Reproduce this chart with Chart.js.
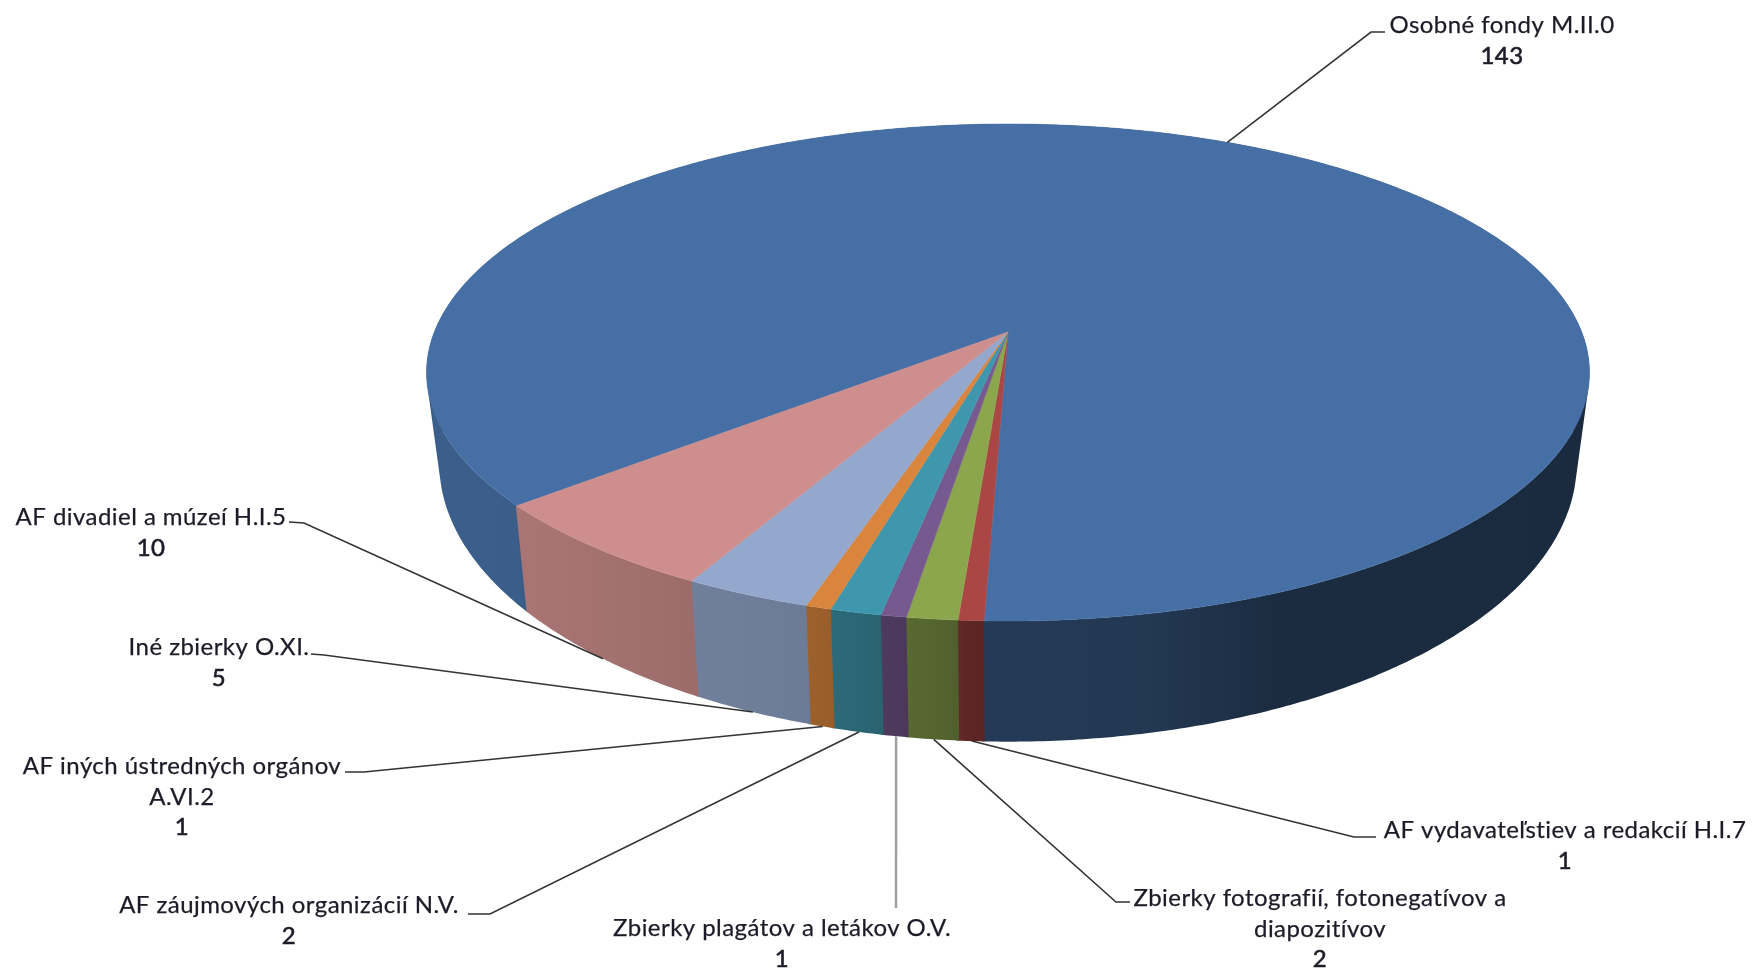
<!DOCTYPE html>
<html>
<head>
<meta charset="utf-8">
<style>
	body { margin: 0; background: #fff; }
	canvas { display: block; filter: blur(0.5px); }
</style>
<script src="https://cdn.jsdelivr.net/npm/chart.js@4"></script>
</head>
<body>
<canvas id="mycanvas" width="1754" height="968"></canvas>
<script>
var categories = [
	"Osobné fondy M.II.0",
	"AF vydavateľstiev a redakcií H.I.7",
	"Zbierky fotografií, fotonegatívov a diapozitívov",
	"Zbierky plagátov a letákov O.V.",
	"AF záujmových organizácií N.V.",
	"AF iných ústredných orgánov A.VI.2",
	"Iné zbierky O.XI.",
	"AF divadiel a múzeí H.I.5"
];
var values = [143, 1, 2, 1, 2, 1, 5, 10];
var colors = ["#4670a5", "#aa4644", "#8ca64e", "#76598f", "#3f97ae", "#d9853d", "#94a8cd", "#cd8e8d"];

// how each category label is wrapped
var labelLines = [
	["Osobné fondy M.II.0"],
	["AF vydavateľstiev a redakcií H.I.7"],
	["Zbierky fotografií, fotonegatívov a", "diapozitívov"],
	["Zbierky plagátov a letákov O.V."],
	["AF záujmových organizácií N.V."],
	["AF iných ústredných orgánov", "A.VI.2"],
	["Iné zbierky O.XI."],
	["AF divadiel a múzeí H.I.5"]
];
// label centre x, first line y
var labelPos = [[1502, 25.5], [1565, 830.5], [1320, 898.5], [782, 928.5], [289, 905.5], [182, 766.5], [219, 647.5], [151, 517.5]];
// leader elbow and end, from the slice outward
var leaderPos = [
	[[1371, 32], [1385, 32]],
	[[1354, 837], [1376, 837]],
	[[1116, 902], [1130, 902]],
	[[896, 908], [896, 908]],
	[[490, 914], [468, 914]],
	[[364, 772], [345, 772]],
	[[324, 655], [311, 654]],
	[[304, 523], [289, 522]]
];

// perspective of the pie top and bottom, relative to the arc radius
var topFace = {ax: 1.728, by: 0.7286, dy: 0, p: 0.163};
var bottomFace = {ax: 1.69, by: 0.816, dy: 0.259, p: 0.163};

// wall shading along the rim
var shadeU = [-1, -0.77, -0.47, -0.3, -0.2, -0.1, -0.03, 0.2, 0.4, 1];
var shadeF = [0.84, 0.83, 0.76, 0.73, 0.66, 0.6, 0.52, 0.5, 0.39, 0.38];

function project(el, face, angle) {
	var u = Math.cos(angle), v = Math.sin(angle);
	var k = 1 - face.p * v;
	return {
		x: el.x + el.outerRadius * face.ax * u / k,
		y: el.y + el.outerRadius * (face.dy + face.by * v / k)
	};
}

function wallGradient(ctx, el, hex) {
	var n = parseInt(hex.slice(1), 16);
	var left = project(el, topFace, Math.PI).x;
	var right = project(el, topFace, 0).x;
	var grad = ctx.createLinearGradient(left, 0, right, 0);
	shadeU.forEach(function(u, i) {
		var f = shadeF[i];
		var x = project(el, topFace, Math.acos(u)).x;
		grad.addColorStop((x - left) / (right - left),
			"rgb(" + Math.round((n >> 16 & 255) * f) + "," + Math.round((n >> 8 & 255) * f) + "," + Math.round((n & 255) * f) + ")");
	});
	return grad;
}

// one wall piece, always wound the same way so a single fill has no seams
function addQuad(ctx, q) {
	var area = 0;
	for (var i = 0; i < 4; i++) {
		var n = q[(i + 1) % 4];
		area += q[i].x * n.y - n.x * q[i].y;
	}
	if (area < 0) q.reverse();
	ctx.moveTo(q[0].x, q[0].y);
	ctx.lineTo(q[1].x, q[1].y);
	ctx.lineTo(q[2].x, q[2].y);
	ctx.lineTo(q[3].x, q[3].y);
	ctx.closePath();
}

var pie3d = {
	id: "pie3d",
	beforeDatasetDraw: function(chart, args) {
		var ctx = chart.ctx;
		var arcs = args.meta.data;
		var step = Math.PI / 360;
		var a, p;
		ctx.save();
		ctx.lineJoin = "round";

		// walls, each running slightly under the next one to hide the joint
		arcs.forEach(function(el) {
			var end = el.endAngle + 0.004;
			ctx.fillStyle = wallGradient(ctx, el, el.options.backgroundColor);
			ctx.beginPath();
			for (a = el.startAngle; a < end; a += step) {
				var b = Math.min(a + step, end);
				addQuad(ctx, [project(el, topFace, a), project(el, topFace, b), project(el, bottomFace, b), project(el, bottomFace, a)]);
			}
			ctx.fill();
		});

		// top faces
		arcs.forEach(function(el) {
			ctx.fillStyle = el.options.backgroundColor;
			ctx.strokeStyle = el.options.backgroundColor;
			ctx.lineWidth = 0.5;
			ctx.beginPath();
			ctx.moveTo(el.x, el.y);
			for (a = el.startAngle; a < el.endAngle; a += step) {
				p = project(el, topFace, a);
				ctx.lineTo(p.x, p.y);
			}
			p = project(el, topFace, el.endAngle);
			ctx.lineTo(p.x, p.y);
			ctx.closePath();
			ctx.fill();
			ctx.stroke();
		});
		ctx.restore();
		return false;
	},
	afterDraw: function(chart) {
		var ctx = chart.ctx;
		var arcs = chart.getDatasetMeta(0).data;
		ctx.save();

		// leader lines
		arcs.forEach(function(el, i) {
			var mid = (el.startAngle + el.endAngle) / 2;
			var face = i == 0 ? topFace : bottomFace;
			var s = project(el, face, mid);
			ctx.strokeStyle = i == 3 ? "#a0a0a0" : "#333333";
			ctx.lineWidth = i == 3 ? 2.5 : 1.6;
			ctx.beginPath();
			ctx.moveTo(s.x, s.y);
			ctx.lineTo(leaderPos[i][0][0], leaderPos[i][0][1]);
			ctx.lineTo(leaderPos[i][1][0], leaderPos[i][1][1]);
			ctx.stroke();
		});

		// labels
		ctx.fillStyle = "#1c1c28";
		ctx.strokeStyle = "#1c1c28";
		ctx.font = "24px Lato";
		ctx.letterSpacing = "0.45px";
		ctx.textAlign = "center";
		ctx.textBaseline = "middle";
		labelLines.forEach(function(lines, i) {
			lines.forEach(function(t, j) {
				ctx.lineWidth = 0.25;
				ctx.fillText(t, labelPos[i][0], labelPos[i][1] + j * 30.3);
				ctx.strokeText(t, labelPos[i][0], labelPos[i][1] + j * 30.3);
			});
			// the counts read heavier than the names
			ctx.lineWidth = 0.6;
			ctx.fillText(String(values[i]), labelPos[i][0], labelPos[i][1] + lines.length * 30.3);
			ctx.strokeText(String(values[i]), labelPos[i][0], labelPos[i][1] + lines.length * 30.3);
		});
		ctx.restore();
	}
};

var ctx = document.getElementById("mycanvas");
var pieChart = new Chart(ctx, {
	type: "pie",
	data: {
		labels: categories,
		datasets: [{
			data: values,
			backgroundColor: colors,
			borderWidth: 0
		}]
	},
	options: {
		responsive: false,
		animation: false,
		rotation: 230,
		layout: {padding: {left: 262, bottom: 304}},
		plugins: {
			legend: {display: false},
			title: {display: false},
			tooltip: {enabled: false}
		}
	},
	plugins: [pie3d]
});
</script>
</body>
</html>
